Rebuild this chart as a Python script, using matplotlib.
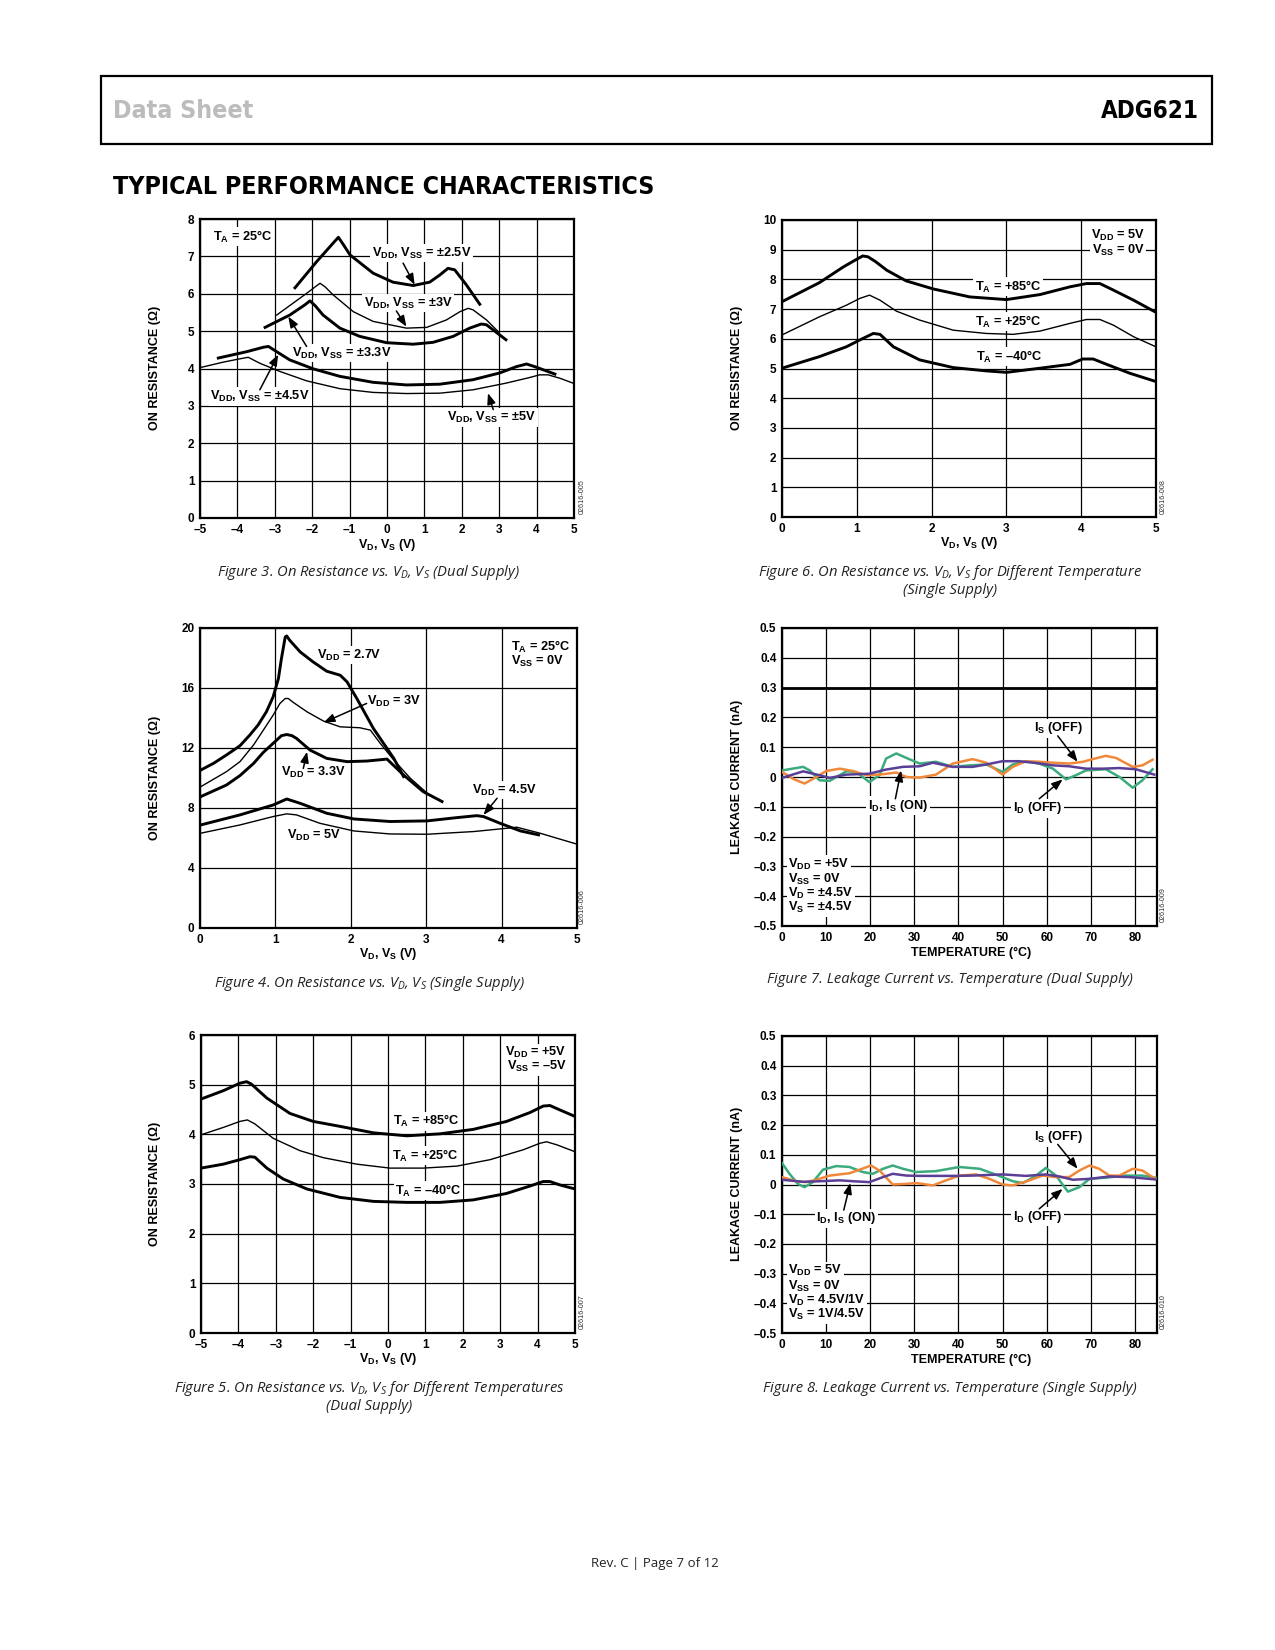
import matplotlib
matplotlib.use('Agg')
import matplotlib.pyplot as plt
from matplotlib.patches import Rectangle
from matplotlib import font_manager
from matplotlib.font_manager import FontProperties

plt.rcParams['mathtext.fontset'] = 'custom'
plt.rcParams['mathtext.rm'] = 'Liberation Sans:bold'
plt.rcParams['mathtext.bf'] = 'Liberation Sans:bold'
plt.rcParams['mathtext.sf'] = 'Liberation Sans:bold'
plt.rcParams['mathtext.it'] = 'Open Sans:italic'
plt.rcParams['mathtext.default'] = 'bf'
plt.rcParams['font.family'] = ['Liberation Sans', 'DejaVu Sans']

# ---------------- DATA ----------------
# Figure 3: On resistance vs VD, VS (dual supply)
f3_vd_25 = [-2.46, -1.88, -1.40, -1.30, -1.17, -0.99, -0.37, 0.16, 0.70, 1.14, 1.41, 1.63, 1.81, 2.12, 2.48]
f3_r_25 = [6.16, 6.86, 7.40, 7.51, 7.32, 7.04, 6.55, 6.31, 6.22, 6.31, 6.50, 6.68, 6.64, 6.24, 5.72]
f3_vd_30 = [-2.95, -2.15, -1.90, -1.79, -1.65, -1.44, -0.90, -0.37, 0.52, 1.06, 1.59, 1.95, 2.17, 2.30, 2.66, 2.97]
f3_r_30 = [5.43, 6.01, 6.20, 6.28, 6.18, 5.97, 5.52, 5.26, 5.08, 5.10, 5.30, 5.52, 5.61, 5.57, 5.30, 4.99]
f3_vd_33 = [-3.26, -2.60, -2.20, -2.06, -1.92, -1.71, -1.26, -0.73, -0.01, 0.70, 1.23, 1.77, 2.21, 2.52, 2.66, 3.18]
f3_r_33 = [5.10, 5.43, 5.70, 5.81, 5.68, 5.43, 5.08, 4.86, 4.69, 4.65, 4.70, 4.86, 5.08, 5.19, 5.17, 4.77]
f3_vd_45 = [-4.51, -3.75, -3.30, -3.17, -2.95, -2.60, -1.97, -1.26, -0.37, 0.52, 1.41, 2.30, 3.01, 3.46, 3.73, 3.95, 4.49]
f3_r_45 = [4.28, 4.45, 4.57, 4.59, 4.45, 4.23, 3.99, 3.79, 3.63, 3.56, 3.58, 3.70, 3.88, 4.05, 4.12, 4.05, 3.85]
f3_vd_50 = [-4.97, -4.38, -3.93, -3.71, -3.40, -2.86, -2.15, -1.26, -0.37, 0.52, 1.41, 2.30, 3.19, 3.82, 4.08, 4.31, 4.62, 4.97]
f3_r_50 = [4.03, 4.17, 4.26, 4.30, 4.14, 3.92, 3.67, 3.46, 3.36, 3.33, 3.34, 3.43, 3.61, 3.76, 3.83, 3.83, 3.74, 3.61]

# Figure 6: On resistance vs VD, VS, temperatures (single supply)
f6_vd_85 = [0, 0.50, 0.82, 1.00, 1.08, 1.15, 1.25, 1.40, 1.66, 2.02, 2.51, 3.00, 3.45, 3.85, 4.07, 4.25, 4.43, 4.70, 5.0]
f6_r_85 = [7.25, 7.89, 8.42, 8.68, 8.79, 8.76, 8.60, 8.31, 7.95, 7.68, 7.41, 7.32, 7.49, 7.75, 7.86, 7.86, 7.64, 7.30, 6.89]
f6_vd_25 = [0, 0.50, 0.86, 1.04, 1.17, 1.31, 1.53, 1.84, 2.29, 2.73, 3.09, 3.45, 3.85, 4.07, 4.25, 4.43, 4.70, 5.0]
f6_r_25 = [6.13, 6.74, 7.13, 7.36, 7.47, 7.30, 6.93, 6.63, 6.29, 6.18, 6.15, 6.26, 6.52, 6.65, 6.65, 6.46, 6.07, 5.73]
f6_vd_m40 = [0, 0.50, 0.86, 1.04, 1.22, 1.31, 1.49, 1.84, 2.29, 2.73, 3.00, 3.45, 3.85, 4.02, 4.16, 4.34, 4.65, 5.0]
f6_r_m40 = [5.01, 5.40, 5.73, 5.96, 6.18, 6.15, 5.73, 5.29, 5.03, 4.92, 4.87, 5.01, 5.14, 5.32, 5.32, 5.14, 4.84, 4.56]

# Figure 4: On resistance vs VD, VS (single supply)
f4_vd_27 = [0.01, 0.18, 0.35, 0.53, 0.66, 0.77, 0.88, 0.97, 1.04, 1.08, 1.13, 1.15, 1.19, 1.33, 1.50, 1.68, 1.86, 1.95, 2.08, 2.30, 2.57, 2.70]
f4_r_27 = [10.53, 10.98, 11.53, 12.15, 12.86, 13.53, 14.41, 15.41, 16.63, 17.96, 19.40, 19.47, 19.18, 18.40, 17.74, 17.12, 16.85, 16.41, 15.30, 13.30, 11.31, 10.09]
f4_vd_30 = [0.01, 0.35, 0.53, 0.71, 0.84, 0.97, 1.06, 1.13, 1.17, 1.24, 1.42, 1.64, 1.86, 2.12, 2.26, 2.39, 2.57, 2.79, 2.99]
f4_r_30 = [9.42, 10.42, 11.09, 12.20, 13.19, 14.19, 14.97, 15.30, 15.30, 15.03, 14.41, 13.79, 13.41, 13.35, 13.19, 12.31, 11.20, 9.98, 9.09]
f4_vd_33 = [0.01, 0.35, 0.53, 0.71, 0.84, 0.97, 1.08, 1.15, 1.22, 1.28, 1.46, 1.68, 1.95, 2.21, 2.48, 2.70, 2.96, 3.21]
f4_r_33 = [8.76, 9.53, 10.16, 10.97, 11.71, 12.31, 12.82, 12.90, 12.82, 12.64, 11.86, 11.31, 11.09, 11.13, 11.26, 10.20, 9.09, 8.43]
f4_vd_45 = [0.01, 0.53, 0.97, 1.15, 1.33, 1.68, 2.04, 2.52, 3.01, 3.41, 3.67, 3.76, 3.98, 4.25, 4.49]
f4_r_45 = [6.87, 7.54, 8.20, 8.60, 8.31, 7.65, 7.27, 7.10, 7.14, 7.36, 7.49, 7.43, 6.98, 6.47, 6.21]
f4_vd_50 = [0.01, 0.53, 0.97, 1.15, 1.28, 1.59, 2.04, 2.52, 3.01, 3.63, 4.07, 4.20, 4.51, 4.73, 5.0]
f4_r_50 = [6.32, 6.87, 7.43, 7.61, 7.54, 6.98, 6.47, 6.27, 6.25, 6.43, 6.65, 6.72, 6.32, 5.99, 5.59]

# Figure 5: On resistance vs VD, VS, temperatures (dual supply)
f5_vd_85 = [-5, -4.40, -3.96, -3.78, -3.65, -3.24, -2.62, -2.00, -1.28, -0.39, 0.50, 1.39, 2.28, 3.17, 3.80, 4.15, 4.33, 4.60, 5.0]
f5_r_85 = [4.71, 4.88, 5.03, 5.06, 5.01, 4.73, 4.42, 4.26, 4.16, 4.03, 3.97, 4.01, 4.10, 4.26, 4.44, 4.57, 4.58, 4.49, 4.36]
f5_vd_25 = [-5, -4.40, -3.96, -3.76, -3.56, -3.07, -2.35, -1.73, -0.84, 0.05, 0.94, 1.84, 2.73, 3.62, 4.06, 4.24, 4.51, 5.0]
f5_r_25 = [3.99, 4.14, 4.26, 4.29, 4.21, 3.92, 3.67, 3.53, 3.40, 3.32, 3.32, 3.36, 3.49, 3.69, 3.82, 3.85, 3.79, 3.65]
f5_vd_m40 = [-5, -4.40, -3.96, -3.69, -3.56, -3.24, -2.80, -2.17, -1.28, -0.39, 0.50, 1.39, 2.28, 3.17, 3.80, 4.15, 4.33, 4.60, 5.0]
f5_r_m40 = [3.32, 3.40, 3.49, 3.55, 3.54, 3.32, 3.10, 2.90, 2.73, 2.65, 2.63, 2.63, 2.68, 2.81, 2.96, 3.05, 3.05, 2.98, 2.90]

# Figure 7: Leakage current vs temperature (dual supply)
f7_t_doff = [0, 4.8, 6.3, 8.5, 10.8, 14.6, 16.8, 19.8, 22.1, 23.6, 25.9, 28.2, 31.2, 34.9, 38.7, 42.5, 46.3, 50.0, 52.3, 55.3, 58.3, 61.4, 64.4, 66.6, 68.9, 73.4, 76.5, 79.5, 81.7, 84.0]
f7_i_doff = [0.022, 0.034, 0.022, -0.011, -0.013, 0.019, 0.017, -0.017, 0.006, 0.062, 0.079, 0.064, 0.045, 0.051, 0.034, 0.039, 0.042, 0.017, 0.042, 0.053, 0.045, 0.028, -0.008, 0.006, 0.022, 0.026, 0.000, -0.036, -0.011, 0.026]
f7_t_soff = [0, 2.5, 5.1, 7.8, 10.0, 13.1, 16.1, 19.1, 22.1, 25.9, 28.2, 31.2, 34.9, 38.7, 43.2, 46.3, 50.0, 52.3, 55.3, 58.3, 61.4, 65.1, 68.2, 70.4, 73.4, 75.7, 79.5, 81.7, 84.0]
f7_i_soff = [0.017, -0.006, -0.022, 0.000, 0.020, 0.028, 0.020, 0.006, 0.008, 0.015, 0.000, -0.002, 0.008, 0.045, 0.060, 0.048, 0.008, 0.034, 0.053, 0.051, 0.048, 0.045, 0.051, 0.060, 0.071, 0.064, 0.034, 0.039, 0.058]
f7_t_on = [0, 4.8, 8.5, 10.8, 14.6, 19.8, 23.6, 27.4, 31.2, 34.2, 38.7, 43.2, 46.3, 50.0, 53.8, 57.6, 61.4, 65.1, 68.9, 72.7, 76.5, 80.2, 84.4]
f7_i_on = [-0.003, 0.019, 0.006, -0.003, 0.008, 0.011, 0.025, 0.034, 0.036, 0.048, 0.034, 0.034, 0.042, 0.053, 0.053, 0.047, 0.039, 0.036, 0.028, 0.028, 0.030, 0.026, 0.008]

# Figure 8: Leakage current vs temperature (single supply)
f8_t_doff = [0, 1.7, 3.6, 5.1, 7.0, 9.3, 12.3, 15.3, 18.3, 20.6, 22.9, 25.1, 27.4, 30.4, 34.9, 40.2, 44.8, 48.5, 52.3, 54.6, 57.6, 59.8, 62.1, 64.8, 67.4, 69.7, 73.4, 77.9, 81.7, 84.6]
f8_i_doff = [0.072, 0.036, 0.002, -0.009, 0.008, 0.050, 0.062, 0.059, 0.042, 0.036, 0.053, 0.064, 0.053, 0.042, 0.045, 0.059, 0.053, 0.033, 0.011, 0.005, 0.030, 0.056, 0.030, -0.024, -0.009, 0.019, 0.023, 0.030, 0.030, 0.023]
f8_t_soff = [0, 3.2, 5.5, 7.8, 10.8, 15.3, 17.6, 20.2, 22.1, 25.1, 28.2, 30.4, 34.2, 37.2, 40.2, 44.0, 47.0, 50.0, 52.3, 55.3, 59.1, 62.1, 65.1, 67.4, 69.7, 71.9, 74.2, 76.5, 79.5, 81.7, 84.6]
f8_i_soff = [0.025, 0.011, 0.008, 0.016, 0.030, 0.038, 0.050, 0.064, 0.047, 0.000, 0.002, 0.005, -0.003, 0.014, 0.030, 0.034, 0.019, 0.000, -0.003, 0.010, 0.030, 0.025, 0.025, 0.047, 0.064, 0.053, 0.030, 0.030, 0.053, 0.047, 0.019]
f8_t_on = [0, 4.8, 8.5, 13.1, 16.1, 19.8, 22.9, 25.1, 28.2, 31.2, 38.7, 43.2, 50.0, 55.3, 59.8, 62.9, 65.9, 69.7, 74.2, 78.7, 84.6]
f8_i_on = [0.016, 0.009, 0.011, 0.014, 0.011, 0.008, 0.025, 0.036, 0.030, 0.029, 0.029, 0.030, 0.034, 0.029, 0.034, 0.027, 0.016, 0.019, 0.027, 0.025, 0.017]

# tick labels
dual_v_ticks = [-5, -4, -3, -2, -1, 0, 1, 2, 3, 4, 5]
dual_v_labels = ['\u20135', '\u20134', '\u20133', '\u20132', '\u20131', '0', '1', '2', '3', '4', '5']
single_v_ticks = [0, 1, 2, 3, 4, 5]
single_v_labels = ['0', '1', '2', '3', '4', '5']
temp_ticks = [0, 10, 20, 30, 40, 50, 60, 70, 80]
temp_labels = ['0', '10', '20', '30', '40', '50', '60', '70', '80']
leak_ticks = [-0.5, -0.4, -0.3, -0.2, -0.1, 0, 0.1, 0.2, 0.3, 0.4, 0.5]
leak_labels = ['\u20130.5', '\u20130.4', '\u20130.3', '\u20130.2', '\u20130.1', '0', '0.1', '0.2', '0.3', '0.4', '0.5']

# ---------------- LAYOUT ----------------
W, H = 1275, 1650
fig = plt.figure(figsize=(W / 100, H / 100), dpi=100)
fig.patch.set_facecolor('white')

def fx(x):
    return x / W

def fy(y):
    return 1 - y / H

TF = ['Liberation Sans', 'DejaVu Sans']
CAP = ['Open Sans', 'DejaVu Sans']
GREEN = '#3bab7d'
ORANGE = '#f0883a'
PURPLE = '#5a3f96'
WB = dict(boxstyle='square,pad=0.12', fc='white', ec='none')
TICK_FS = 8.5
LAB_FS = 9.2
AX_FS = 9

def make_axes(x0, y0, x1, y1):
    return fig.add_axes([fx(x0), fy(y1), (x1 - x0) / W, (y1 - y0) / H])

def style_ax(ax, xlim, ylim, xt, xtl, yt, ytl):
    ax.set_xlim(xlim)
    ax.set_ylim(ylim)
    ax.set_xticks(xt)
    ax.set_xticklabels(xtl, fontsize=TICK_FS, fontweight='bold', family=TF)
    ax.set_yticks(yt)
    ax.set_yticklabels(ytl, fontsize=TICK_FS, fontweight='bold', family=TF)
    ax.tick_params(length=0, pad=4)
    ax.grid(True, color='black', lw=0.9)
    ax.set_axisbelow(True)
    for s in ax.spines.values():
        s.set_linewidth(1.6)

def label(ax, x, y, s, ha='left', size=LAB_FS):
    ax.text(x, y, s, ha=ha, va='center', fontsize=size, fontweight='bold',
            family=TF, bbox=WB, zorder=2.5)

def arrow(ax, x0, y0, x1, y1):
    ax.annotate('', xy=(x1, y1), xytext=(x0, y0),
                arrowprops=dict(arrowstyle='-|>,head_length=0.65,head_width=0.25',
                                color='black', lw=1.1, shrinkA=0, shrinkB=0),
                zorder=7)

def caption(x, y, s):
    fig.text(fx(x), fy(y), s, ha='center', va='center', fontsize=10.6,
             style='italic', family=CAP, color='#222222')

def axis_labels(xlab_x, xlab_y, xlab, ylab_x, ylab_y, ylab):
    fig.text(fx(xlab_x), fy(xlab_y), xlab, ha='center', va='center',
             fontsize=AX_FS, fontweight='bold', family=TF)
    fig.text(fx(ylab_x), fy(ylab_y), ylab, ha='center', va='center',
             rotation=90, fontsize=AX_FS, fontweight='bold', family=TF)

def code(x, y, s):
    fig.text(fx(x), fy(y), s, ha='center', va='center', rotation=90,
             fontsize=5.2, family=TF, color='#333333')

THICK = 2.1
THIN = 1.0
VLAB = r'$V_D$, $V_S$ (V)'

# ---------------- HEADER ----------------
# pick a narrow bold face if one is installed, else regular bold at a smaller size
HF = ['Liberation Sans', 'DejaVu Sans']
HSTRETCH = 'normal'
title_fs, head_fs, adg_fs = 17.5, 19.0, 18.2
for fam, stretch in [('Liberation Sans Narrow', 'normal'), ('DejaVu Sans', 'condensed')]:
    path = font_manager.findfont(FontProperties(family=fam, stretch=stretch, weight='bold'))
    if 'Narrow' in path or 'Condensed' in path:
        HF = [fam, 'DejaVu Sans']
        HSTRETCH = stretch
        if 'Narrow' in path:
            title_fs, head_fs, adg_fs = 21.3, 23.0, 22.0
        else:
            title_fs, head_fs, adg_fs = 17.9, 17.9, 17.4
        break

fig.add_artist(Rectangle((fx(101), fy(144)), (1212 - 101) / W, (144 - 76) / H,
                         transform=fig.transFigure, fill=False, lw=1.6, ec='black'))
fig.text(fx(113), fy(111), 'Data Sheet', ha='left', va='center', fontsize=head_fs,
         fontweight='bold', family=HF, stretch=HSTRETCH, color='#bcbcbc')
fig.text(fx(1199), fy(111), 'ADG621', ha='right', va='center', fontsize=adg_fs,
         fontweight='bold', family=HF, stretch=HSTRETCH, color='black')
fig.text(fx(113), fy(187), 'TYPICAL PERFORMANCE CHARACTERISTICS', ha='left',
         va='center', fontsize=title_fs, fontweight='bold', family=HF,
         stretch=HSTRETCH, color='black')
fig.text(fx(655), fy(1564), 'Rev. C | Page 7 of 12', ha='center', va='center',
         fontsize=9.5, family=CAP, color='#222222')

# ---------------- FIGURE 3 ----------------
ax = make_axes(200, 219, 574, 518)
style_ax(ax, (-5, 5), (0, 8), dual_v_ticks, dual_v_labels,
         list(range(0, 9)), [str(v) for v in range(0, 9)])
ax.plot(f3_vd_25, f3_r_25, color='black', lw=THICK, zorder=3)
ax.plot(f3_vd_30, f3_r_30, color='black', lw=THIN, zorder=3)
ax.plot(f3_vd_33, f3_r_33, color='black', lw=THICK, zorder=3)
ax.plot(f3_vd_45, f3_r_45, color='black', lw=THICK, zorder=3)
ax.plot(f3_vd_50, f3_r_50, color='black', lw=THIN, zorder=3)
label(ax, -4.66, 7.53, r'$T_A$ = 25°C')
label(ax, -0.41, 7.08, r'$V_{DD}$, $V_{SS}$ = ±2.5V')
label(ax, -0.62, 5.75, r'$V_{DD}$, $V_{SS}$ = ±3V')
label(ax, -2.55, 4.41, r'$V_{DD}$, $V_{SS}$ = ±3.3V')
label(ax, -4.72, 3.25, r'$V_{DD}$, $V_{SS}$ = ±4.5V')
label(ax, 1.61, 2.69, r'$V_{DD}$, $V_{SS}$ = ±5V')
arrow(ax, 0.43, 6.82, 0.74, 6.24)
arrow(ax, 0.25, 5.54, 0.52, 5.12)
arrow(ax, -2.15, 4.59, -2.64, 5.39)
arrow(ax, -3.40, 3.43, -2.91, 4.37)
arrow(ax, 2.84, 2.90, 2.70, 3.34)
axis_labels(387, 545, VLAB, 155, 368, 'ON RESISTANCE (Ω)')
code(582, 497, '02616-005')
caption(369, 573, r'Figure 3. On Resistance vs. $\mathit{V_D}$, $\mathit{V_S}$ (Dual Supply)')

# ---------------- FIGURE 6 ----------------
ax = make_axes(782, 220, 1156, 517)
style_ax(ax, (0, 5), (0, 10), single_v_ticks, single_v_labels,
         list(range(0, 11)), [str(v) for v in range(0, 11)])
ax.plot(f6_vd_85, f6_r_85, color='black', lw=THICK, zorder=3)
ax.plot(f6_vd_25, f6_r_25, color='black', lw=THIN, zorder=3)
ax.plot(f6_vd_m40, f6_r_m40, color='black', lw=THICK, zorder=3)
label(ax, 2.58, 7.75, r'$T_A$ = +85°C')
label(ax, 2.58, 6.57, r'$T_A$ = +25°C')
label(ax, 2.60, 5.40, r'$T_A$ = ' + '\u201340°C')
label(ax, 4.85, 9.48, r'$V_{DD}$ = 5V', ha='right')
label(ax, 4.85, 8.98, r'$V_{SS}$ = 0V', ha='right')
axis_labels(969, 543, VLAB, 737, 368, 'ON RESISTANCE (Ω)')
code(1163, 497, '02616-008')
caption(950, 573, r'Figure 6. On Resistance vs. $\mathit{V_D}$, $\mathit{V_S}$ for Different Temperature')
caption(950, 591, '(Single Supply)')

# ---------------- FIGURE 4 ----------------
ax = make_axes(200, 628, 577, 928)
style_ax(ax, (0, 5), (0, 20), single_v_ticks, single_v_labels,
         [0, 4, 8, 12, 16, 20], ['0', '4', '8', '12', '16', '20'])
ax.plot(f4_vd_27, f4_r_27, color='black', lw=THICK, zorder=3)
ax.plot(f4_vd_30, f4_r_30, color='black', lw=THIN, zorder=3)
ax.plot(f4_vd_33, f4_r_33, color='black', lw=THICK, zorder=3)
ax.plot(f4_vd_45, f4_r_45, color='black', lw=THICK, zorder=3)
ax.plot(f4_vd_50, f4_r_50, color='black', lw=THIN, zorder=3)
label(ax, 1.55, 18.2, r'$V_{DD}$ = 2.7V')
label(ax, 2.21, 15.1, r'$V_{DD}$ = 3V')
label(ax, 1.08, 10.4, r'$V_{DD}$ = 3.3V')
label(ax, 3.61, 9.2, r'$V_{DD}$ = 4.5V')
label(ax, 1.15, 6.16, r'$V_{DD}$ = 5V')
label(ax, 4.12, 18.74, r'$T_A$ = 25°C')
label(ax, 4.12, 17.8, r'$V_{SS}$ = 0V')
arrow(ax, 2.21, 14.97, 1.64, 13.7)
arrow(ax, 1.37, 10.64, 1.42, 11.75)
arrow(ax, 3.94, 8.65, 3.76, 7.54)
axis_labels(388, 954, VLAB, 155, 778, 'ON RESISTANCE (Ω)')
code(582, 907, '02616-006')
caption(369, 984, r'Figure 4. On Resistance vs. $\mathit{V_D}$, $\mathit{V_S}$ (Single Supply)')

# ---------------- FIGURE 7 ----------------
ax = make_axes(782, 628, 1157, 926)
style_ax(ax, (0, 85), (-0.5, 0.5), temp_ticks, temp_labels, leak_ticks, leak_labels)
ax.axhline(0.3, color='black', lw=2.0, zorder=1.5)
ax.plot(f7_t_doff, f7_i_doff, color=GREEN, lw=1.8, zorder=3)
ax.plot(f7_t_soff, f7_i_soff, color=ORANGE, lw=1.8, zorder=3)
ax.plot(f7_t_on, f7_i_on, color=PURPLE, lw=1.8, zorder=3)
label(ax, 57.2, 0.163, r'$I_S$ (OFF)')
label(ax, 19.5, -0.096, r'$I_D$, $I_S$ (ON)')
label(ax, 52.3, -0.105, r'$I_D$ (OFF)')
label(ax, 1.4, -0.292, r'$V_{DD}$ = +5V')
label(ax, 1.4, -0.343, r'$V_{SS}$ = 0V')
label(ax, 1.4, -0.390, r'$V_D$ = ±4.5V')
label(ax, 1.4, -0.438, r'$V_S$ = ±4.5V')
arrow(ax, 62.5, 0.138, 67.0, 0.051)
arrow(ax, 25.7, -0.073, 27.0, 0.022)
arrow(ax, 58.3, -0.073, 63.6, -0.008)
axis_labels(971, 953, 'TEMPERATURE (°C)', 737, 777, 'LEAKAGE CURRENT (nA)')
code(1163, 905, '02616-009')
caption(950, 979, 'Figure 7. Leakage Current vs. Temperature (Dual Supply)')

# ---------------- FIGURE 5 ----------------
ax = make_axes(201, 1035, 575, 1333)
style_ax(ax, (-5, 5), (0, 6), dual_v_ticks, dual_v_labels,
         list(range(0, 7)), [str(v) for v in range(0, 7)])
ax.plot(f5_vd_85, f5_r_85, color='black', lw=THICK, zorder=3)
ax.plot(f5_vd_25, f5_r_25, color='black', lw=THIN, zorder=3)
ax.plot(f5_vd_m40, f5_r_m40, color='black', lw=THICK, zorder=3)
label(ax, 0.14, 4.26, r'$T_A$ = +85°C')
label(ax, 0.10, 3.57, r'$T_A$ = +25°C')
label(ax, 0.19, 2.87, r'$T_A$ = ' + '\u201340°C')
label(ax, 4.78, 5.64, r'$V_{DD}$ = +5V', ha='right')
label(ax, 4.78, 5.36, r'$V_{SS}$ = ' + '\u20135V', ha='right')
axis_labels(388, 1359, VLAB, 155, 1184, 'ON RESISTANCE (Ω)')
code(582, 1312, '02616-007')
caption(369, 1389, r'Figure 5. On Resistance vs. $\mathit{V_D}$, $\mathit{V_S}$ for Different Temperatures')
caption(369, 1406, '(Dual Supply)')

# ---------------- FIGURE 8 ----------------
ax = make_axes(782, 1036, 1157, 1333)
style_ax(ax, (0, 85), (-0.5, 0.5), temp_ticks, temp_labels, leak_ticks, leak_labels)
ax.plot(f8_t_doff, f8_i_doff, color=GREEN, lw=1.8, zorder=3)
ax.plot(f8_t_soff, f8_i_soff, color=ORANGE, lw=1.8, zorder=3)
ax.plot(f8_t_on, f8_i_on, color=PURPLE, lw=1.8, zorder=3)
label(ax, 57.2, 0.160, r'$I_S$ (OFF)')
label(ax, 7.8, -0.113, r'$I_D$, $I_S$ (ON)')
label(ax, 52.3, -0.108, r'$I_D$ (OFF)')
label(ax, 1.4, -0.291, r'$V_{DD}$ = 5V')
label(ax, 1.4, -0.343, r'$V_{SS}$ = 0V')
label(ax, 1.4, -0.390, r'$V_D$ = 4.5V/1V')
label(ax, 1.4, -0.439, r'$V_S$ = 1V/4.5V')
arrow(ax, 62.5, 0.135, 67.0, 0.053)
arrow(ax, 14.0, -0.086, 15.5, 0.005)
arrow(ax, 58.3, -0.082, 63.6, -0.015)
axis_labels(971, 1360, 'TEMPERATURE (°C)', 737, 1184, 'LEAKAGE CURRENT (nA)')
code(1163, 1312, '02616-010')
caption(950, 1388, 'Figure 8. Leakage Current vs. Temperature (Single Supply)')

fig.savefig('out.png', dpi=100, facecolor='white')
